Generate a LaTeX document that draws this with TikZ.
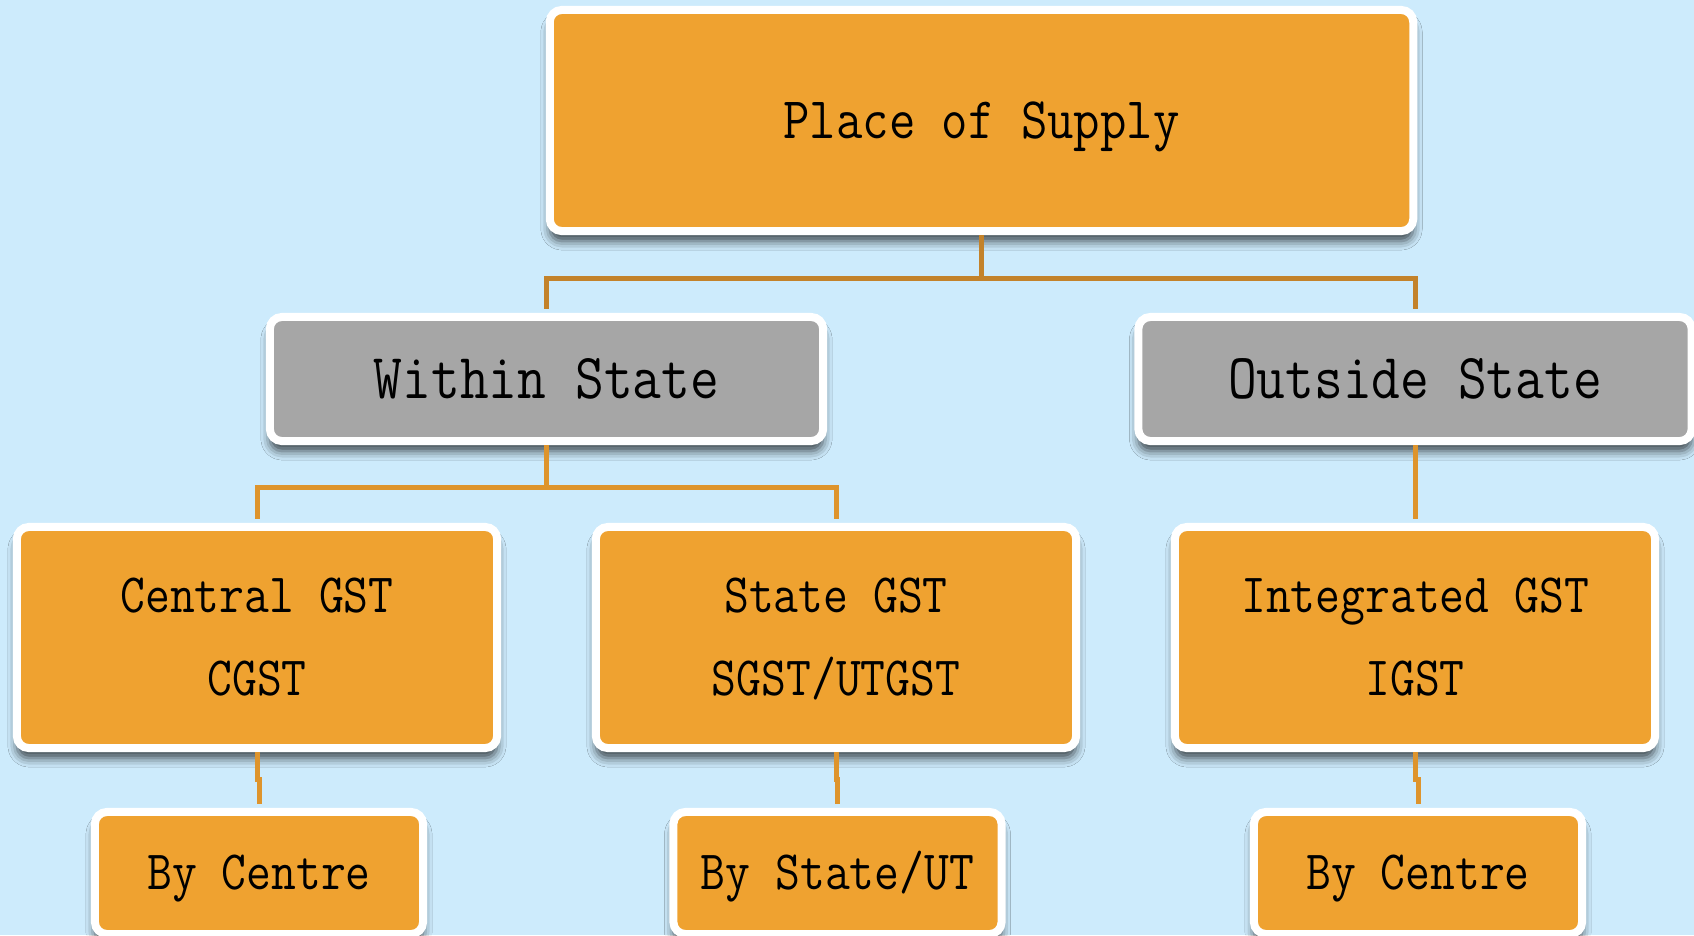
\documentclass[tikz,border=0pt]{standalone}
\usepackage{fontspec}
\usepackage{graphicx}
\usetikzlibrary{shadows.blur}
\definecolor{PSSky}{HTML}{CDEBFC}
\definecolor{PSOrange}{HTML}{EFA230}
\definecolor{PSGray}{HTML}{A6A6A6}
\definecolor{PSBrown}{HTML}{C3822A}
\definecolor{PSAmber}{HTML}{DE942C}
\newcommand{\narrowtext}[1]{\scalebox{0.87}[1]{#1}}
\tikzset{
  gstBox/.style={rectangle, rounded corners=0.12cm, draw=white, line width=0.08cm, inner sep=0pt, text=black,
    blur shadow={shadow xshift=0pt, shadow yshift=-0.1cm, shadow blur radius=0.09cm, shadow opacity=70}},
  rootNode/.style={gstBox, fill=PSOrange, minimum width=8.63cm, minimum height=2.21cm,
    font=\fontsize{16.75pt}{20pt}\selectfont\ttfamily, text height=10.2pt, text depth=0pt},
  regionNode/.style={gstBox, fill=PSGray, minimum width=5.53cm, minimum height=1.24cm,
    font=\fontsize{18.25pt}{22pt}\selectfont\ttfamily, text height=11.15pt, text depth=0pt},
  taxNode/.style={gstBox, fill=PSOrange, minimum width=4.80cm, minimum height=2.21cm, align=center,
    font=\fontsize{15.76pt}{23.6pt}\selectfont\ttfamily, text height=33.23pt, text depth=0pt},
  authNode/.style={gstBox, fill=PSOrange, minimum width=3.28cm, minimum height=1.22cm,
    font=\fontsize{15.76pt}{19pt}\selectfont\ttfamily, text height=9.63pt, text depth=0pt},
  busLink/.style={draw=PSBrown, line width=0.05cm, shorten >=0.04cm},
  feedLink/.style={draw=PSAmber, line width=0.05cm, shorten >=0.04cm}
}

\begin{document}
\begin{tikzpicture}[x=0.01cm, y=-0.01cm]
  \useasboundingbox (0,0) rectangle (1694,935);
  \fill[PSSky] (0,0) rectangle (1694,935);

  % Root
  \node[rootNode] (place) at (981.5,120.5) {\narrowtext{Place of Supply}};

  % Within / outside
  \node[regionNode] (within) at (546.5,379) {\narrowtext{Within State}};
  \node[regionNode] (outside) at (1415,379) {\narrowtext{Outside State}};

  % Taxes
  \node[taxNode] (cgst) at (257,637.5) {\narrowtext{Central GST}\\\narrowtext{CGST}};
  \node[taxNode] (sgst) at (836,637.5) {\narrowtext{State GST}\\\narrowtext{SGST/UTGST}};
  \node[taxNode] (igst) at (1415,637.5) {\narrowtext{Integrated GST}\\\narrowtext{IGST}};

  % Collected by
  \node[authNode] (cgstBy) at (259,873) {\narrowtext{By Centre}};
  \node[authNode] (sgstBy) at (837.5,873) {\narrowtext{By State/UT}};
  \node[authNode] (igstBy) at (1418,873) {\narrowtext{By Centre}};

  % Links
  \draw[busLink] (place.south) -- ++(0,43) -| (within.north);
  \draw[busLink] (place.south) -- ++(0,43) -| (outside.north);

  \draw[feedLink] (within.south) -- ++(0,42) -| (cgst.north);
  \draw[feedLink] (within.south) -- ++(0,42) -| (sgst.north);
  \draw[feedLink] (outside.south) -- (igst.north);

  \foreach \tax in {cgst, sgst, igst}
    \draw[feedLink] (\tax.south) -- ++(0,27) -| (\tax By.north);
\end{tikzpicture}
\end{document}
